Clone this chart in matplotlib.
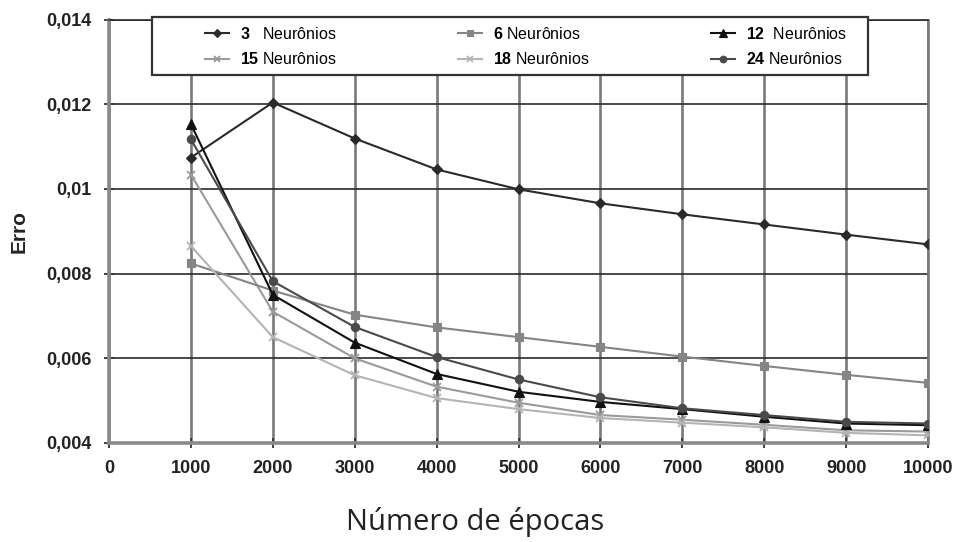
import matplotlib
matplotlib.use("Agg")
import matplotlib.pyplot as plt
from matplotlib.patches import Rectangle
from matplotlib.ticker import FixedLocator

plt.rcParams["font.family"] = ["Liberation Sans", "DejaVu Sans"]
plt.rcParams["mathtext.fontset"] = "custom"
plt.rcParams["mathtext.rm"] = "Liberation Sans"
plt.rcParams["mathtext.bf"] = "Liberation Sans:bold"

# Épocas de treinamento
epocas = [1000, 2000, 3000, 4000, 5000, 6000, 7000, 8000, 9000, 10000]

# Erro por número de neurônios na camada oculta
erro_3 = [0.01074, 0.01204, 0.01119, 0.01046, 0.00999, 0.00966, 0.00940, 0.00916, 0.00892, 0.00869]
erro_6 = [0.00824, 0.00760, 0.00703, 0.00673, 0.00650, 0.00627, 0.00604, 0.00582, 0.00561, 0.00542]
erro_12 = [0.01153, 0.00750, 0.00637, 0.00563, 0.00521, 0.00497, 0.00480, 0.00462, 0.00446, 0.00442]
erro_15 = [0.01034, 0.00710, 0.00600, 0.00533, 0.00495, 0.00466, 0.00455, 0.00443, 0.00430, 0.00427]
erro_18 = [0.00865, 0.00650, 0.00560, 0.00506, 0.00480, 0.00459, 0.00448, 0.00437, 0.00424, 0.00418]
erro_24 = [0.01117, 0.00782, 0.00674, 0.00603, 0.00550, 0.00508, 0.00482, 0.00466, 0.00450, 0.00446]

x_ticks = [0, 1000, 2000, 3000, 4000, 5000, 6000, 7000, 8000, 9000, 10000]
y_ticks = [0.004, 0.006, 0.008, 0.010, 0.012, 0.014]
y_tick_labels = ["0,004", "0,006", "0,008", "0,01", "0,012", "0,014"]

fig = plt.figure(figsize=(9.56, 5.42), dpi=100)
ax = fig.add_axes([109 / 956, 99 / 542, 819 / 956, 423.5 / 542])

series = [
    (erro_3, r"$\mathbf{3}$   Neurônios", "#2a2a2a", "D", 5),
    (erro_15, r"$\mathbf{15}$ Neurônios", "#9a9a9a", "x", 6),
    (erro_6, r"$\mathbf{6}$ Neurônios", "#858585", "s", 6),
    (erro_18, r"$\mathbf{18}$ Neurônios", "#b4b4b4", "x", 6),
    (erro_12, r"$\mathbf{12}$  Neurônios", "#111111", "^", 7),
    (erro_24, r"$\mathbf{24}$ Neurônios", "#4a4a4a", "o", 6),
]

handles = []
for vals, label, color, marker, ms in series:
    (h,) = ax.plot(epocas, vals, color=color, lw=1.5, marker=marker,
                   markersize=ms, markeredgewidth=1.3 if marker == "x" else 0.8,
                   markeredgecolor=color, markerfacecolor=color,
                   label=label, zorder=3)
    handles.append(h)

ax.set_xlim(0, 10000)
ax.set_ylim(0.004, 0.014)
ax.xaxis.set_major_locator(FixedLocator(x_ticks))
ax.yaxis.set_major_locator(FixedLocator(y_ticks))
ax.set_yticklabels(y_tick_labels)
ax.set_xticklabels([str(t) for t in x_ticks])

# Grade: verticais cinza mais grossas, horizontais escuras e finas
ax.grid(axis="x", color="#7a7a7a", lw=1.9, zorder=1)
ax.grid(axis="y", color="#2b2b2b", lw=1.2, zorder=1)
ax.set_axisbelow(True)

for side in ("left", "bottom"):
    ax.spines[side].set_color("#8a8a8a")
    ax.spines[side].set_linewidth(2.6)
ax.spines["top"].set_color("#2b2b2b")
ax.spines["top"].set_linewidth(1.2)
ax.spines["right"].set_color("#7a7a7a")
ax.spines["right"].set_linewidth(1.9)

ax.tick_params(axis="both", direction="inout", length=7, width=1.3, color="#333333",
               labelsize=13, pad=9)
for lbl in ax.get_xticklabels() + ax.get_yticklabels():
    lbl.set_fontweight("bold")
    lbl.set_color("#222222")

ax.set_ylabel("Erro", fontsize=15, fontweight="bold", color="#222222", labelpad=13)
fig.text(0.497, 0.022, "Número de épocas", ha="center", va="baseline",
         fontsize=21, family=["Open Sans", "DejaVu Sans"], color="#222222")

# Moldura da legenda
frame = Rectangle((152 / 956, (542 - 75) / 542), 716 / 956, 58 / 542,
                  transform=fig.transFigure, facecolor="white",
                  edgecolor="#333333", lw=1.6, zorder=4, clip_on=False)
ax.add_artist(frame)

leg = ax.legend(handles=handles, ncol=3, mode="expand", frameon=False,
                loc="upper left",
                bbox_to_anchor=(205 / 956, (542 - 31) / 542, (847 - 205) / 956, 0.01),
                bbox_transform=fig.transFigure, borderpad=0, borderaxespad=0,
                handlelength=1.5, handletextpad=0.7, labelspacing=0.6,
                fontsize=11.5, markerscale=0.8)
leg.set_zorder(5)

fig.savefig("out.png", dpi=100)
